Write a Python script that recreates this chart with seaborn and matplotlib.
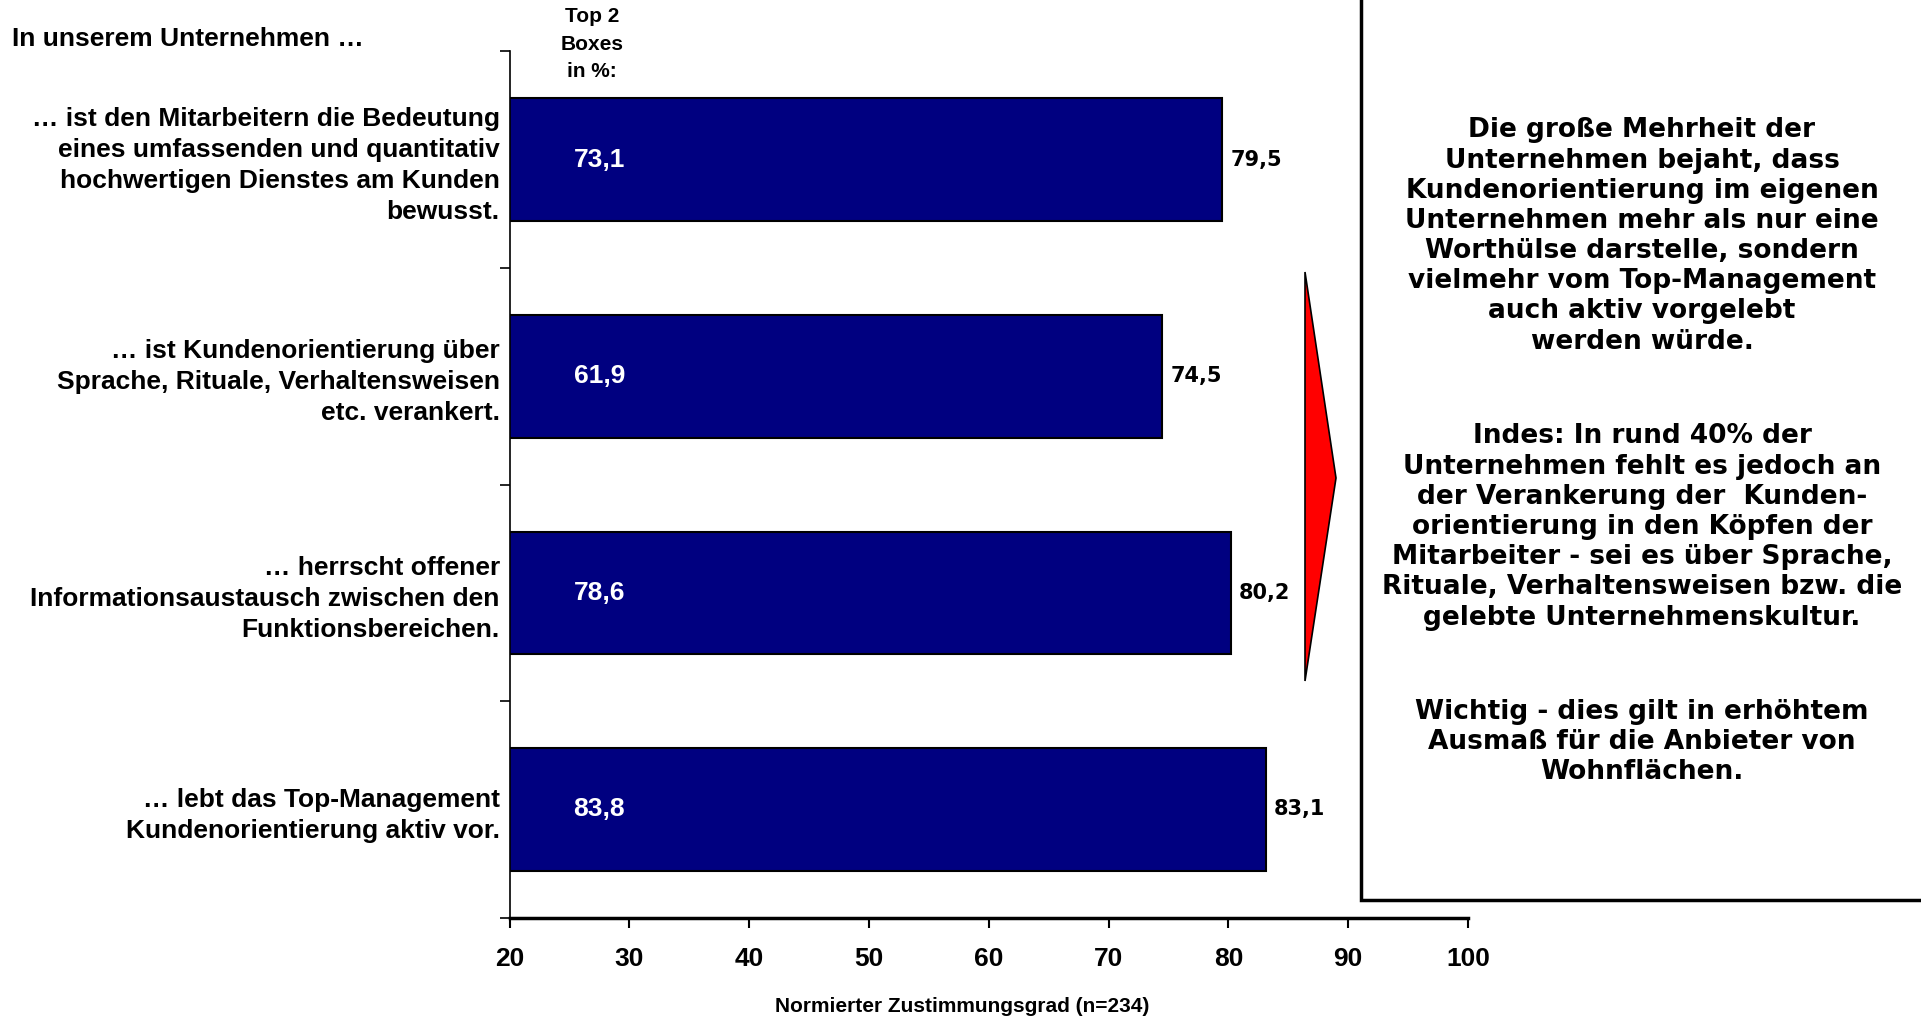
import matplotlib
matplotlib.use("Agg")
import matplotlib.pyplot as plt
from matplotlib.patches import Rectangle, Polygon
import seaborn as sns
import pandas as pd

# --- data -------------------------------------------------------------
statements = [
    "… ist den Mitarbeitern die Bedeutung\neines umfassenden und quantitativ\nhochwertigen Dienstes am Kunden\nbewusst.",
    "… ist Kundenorientierung über\nSprache, Rituale, Verhaltensweisen\netc. verankert.",
    "… herrscht offener\nInformationsaustausch zwischen den\nFunktionsbereichen.",
    "… lebt das Top-Management\nKundenorientierung aktiv vor.",
]
agreement = [79.5, 74.5, 80.2, 83.1]          # normierter Zustimmungsgrad
top2_boxes = ["73,1", "61,9", "78,6", "83,8"]  # Top 2 Boxes in %
x_ticks = [20, 30, 40, 50, 60, 70, 80, 90, 100]

summary_paragraphs = [
    "Die große Mehrheit der\nUnternehmen bejaht, dass\nKundenorientierung im eigenen\n"
    "Unternehmen mehr als nur eine\nWorthülse darstelle, sondern\nvielmehr vom Top-Management\n"
    "auch aktiv vorgelebt\nwerden würde.",
    "Indes: In rund 40% der\nUnternehmen fehlt es jedoch an\nder Verankerung der  Kunden-\n"
    "orientierung in den Köpfen der\nMitarbeiter - sei es über Sprache,\n"
    "Rituale, Verhaltensweisen bzw. die\ngelebte Unternehmenskultur.",
    "Wichtig - dies gilt in erhöhtem\nAusmaß für die Anbieter von\nWohnflächen.",
]

df = pd.DataFrame({"Aussage": statements, "Wert": agreement})

# --- styling ----------------------------------------------------------
sns.set_style("white")
NARROW = ["Liberation Sans Narrow", "Liberation Sans", "DejaVu Sans"]
WIDE = ["DejaVu Sans"]
plt.rcParams["font.family"] = NARROW
plt.rcParams["font.weight"] = "bold"
for key in ("text.color", "axes.labelcolor", "xtick.color", "ytick.color",
            "axes.edgecolor"):
    plt.rcParams[key] = "black"

W, H = 1921, 1017
fig = plt.figure(figsize=(W / 100, H / 100), dpi=100)
fig.patch.set_facecolor("white")

ax = fig.add_axes([509.5 / W, 1 - 917.6 / H, (1468 - 509.5) / W, (917.6 - 51.5) / H])

sns.barplot(data=df, x="Wert", y="Aussage", orient="h", color="#000080",
            saturation=1, edgecolor="black", linewidth=1.5, width=0.566, ax=ax)

ax.set_xlim(20, 100)
ax.set_ylim(3.5, -0.5)
ax.set_xticks(x_ticks)
ax.set_xticklabels([str(t) for t in x_ticks], fontsize=19, fontweight="bold",
                   family=NARROW, color="black")
ax.tick_params(axis="x", direction="out", length=7, width=1.5, pad=14,
               bottom=True, colors="black")

# category labels at bar centers, tick marks at category borders
ax.set_yticks(range(len(statements)))
ax.set_yticklabels(statements, fontsize=19, fontweight="bold", family=NARROW,
                   ha="right", linespacing=1.37, color="black")
ax.tick_params(axis="y", which="major", length=0, pad=7)
ax.set_yticks([-0.5, 0.5, 1.5, 2.5, 3.5], minor=True)
ax.tick_params(axis="y", which="minor", direction="out", length=7, width=1.2,
               left=True, colors="black")

ax.set_xlabel("Normierter Zustimmungsgrad (n=234)", fontsize=15,
              fontweight="bold", family=NARROW, color="black", va="center")
ax.xaxis.set_label_coords(0.472, -0.103)
ax.set_ylabel("")

for side in ("top", "right"):
    ax.spines[side].set_visible(False)
ax.spines["left"].set_linewidth(1.2)
ax.spines["bottom"].set_linewidth(2.5)
ax.grid(False)

# value labels
for i, (val, t2) in enumerate(zip(agreement, top2_boxes)):
    ax.text(val + 0.7, i, f"{val:.1f}".replace(".", ","), ha="left", va="center",
            fontsize=15, fontweight="bold", family=WIDE, color="black")
    ax.text(27.5, i, t2, ha="center", va="center", fontsize=19,
            fontweight="bold", family=NARROW, color="white")

# header texts
fig.text(12 / W, 1 - 39 / H, "In unserem Unternehmen …", ha="left", va="center",
         fontsize=19, fontweight="bold", family=NARROW, color="black")
fig.text(592 / W, 1 - 44 / H, "Top 2\nBoxes\nin %:", ha="center", va="center",
         fontsize=15, fontweight="bold", family=NARROW, linespacing=1.55,
         color="black")

# red arrow head
arrow = Polygon([[1305 / W, 1 - 272 / H], [1336 / W, 1 - 478 / H], [1305 / W, 1 - 681 / H]],
                closed=True, transform=fig.transFigure, facecolor="#ff0000",
                edgecolor="black", linewidth=1.2)
fig.patches.append(arrow)

# summary box
box = Rectangle((1361 / W, 1 - 900 / H), (W + 10 - 1361) / W, (900 + 10) / H,
                transform=fig.transFigure, facecolor="white", edgecolor="black",
                linewidth=2.5)
fig.patches.append(box)

for txt, yc in zip(summary_paragraphs, [236, 527, 742]):
    fig.text(1642 / W, 1 - yc / H, txt, ha="center", va="center", fontsize=19,
             fontweight="bold", family=WIDE, linespacing=1.21, color="black")

fig.savefig("out.png", dpi=100, facecolor="white")
